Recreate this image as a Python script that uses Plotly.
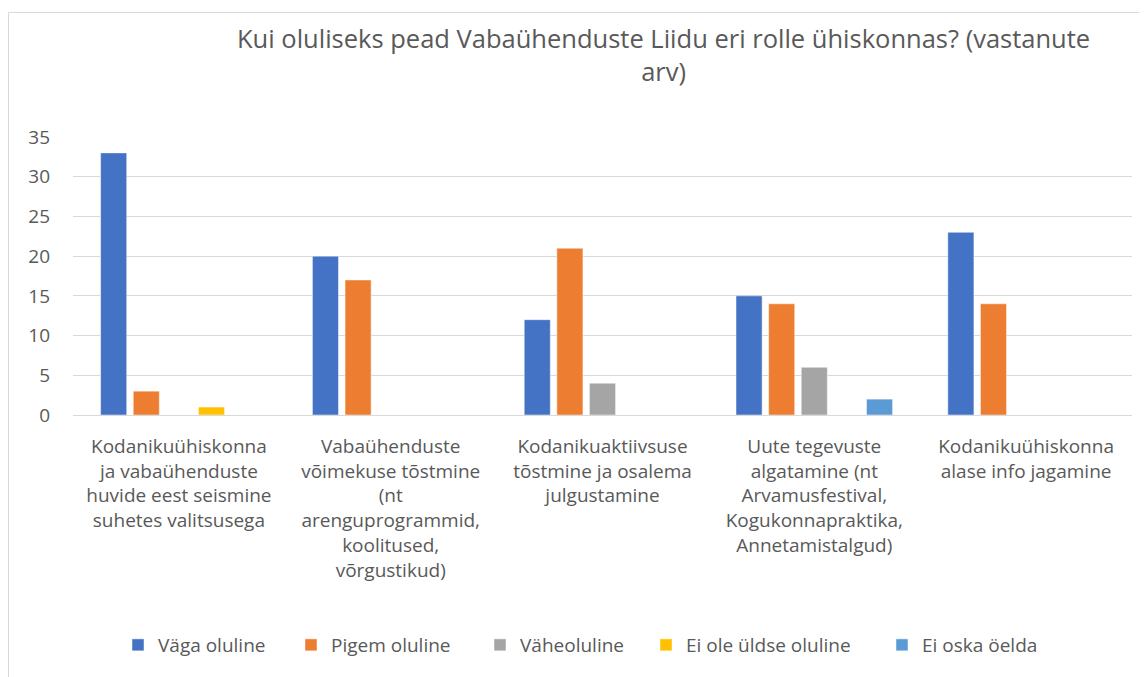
import plotly.graph_objects as go

categories = [
    "Kodanikuühiskonna<br>ja vabaühenduste<br>huvide eest seismine<br>suhetes valitsusega",
    "Vabaühenduste<br>võimekuse tõstmine<br>(nt<br>arenguprogrammid,<br>koolitused,<br>võrgustikud)",
    "Kodanikuaktiivsuse<br>tõstmine ja osalema<br>julgustamine",
    "Uute tegevuste<br>algatamine (nt<br>Arvamusfestival,<br>Kogukonnapraktika,<br>Annetamistalgud)",
    "Kodanikuühiskonna<br>alase info jagamine",
]
series_names = ["Väga oluline", "Pigem oluline", "Väheoluline", "Ei ole üldse oluline", "Ei oska öelda"]
vaga = [33, 20, 12, 15, 23]
pigem = [3, 17, 21, 14, 14]
vahe = [0, 0, 4, 6, 0]
ei_ole = [1, 0, 0, 0, 0]
ei_oska = [0, 0, 0, 2, 0]
series_values = [vaga, pigem, vahe, ei_ole, ei_oska]
colors = ["#4472C4", "#ED7D31", "#A5A5A5", "#FFC000", "#5B9BD5"]
title_text = "Kui oluliseks pead Vabaühenduste Liidu eri rolle ühiskonnas? (vastanute<br>arv)"

FONT = "Open Sans"
TXT = "#595959"

# the page body adds an 8px margin; figure coordinates below are page coords minus 8
OFF = 8
W, H = 1147 - OFF, 677 - OFF
L, R, T = 73 - OFF, 15, 137 - OFF
B = H - (415 - OFF)
pw, ph = W - L - R, H - T - B

def px_x(p):
    return (p - OFF - L) / pw

def px_y(p):
    return (H - B - (p - OFF)) / ph

legend_sym_x = [135, 308, 497, 663, 899]  # page px of symbol left edges
SYM_OFFSET = 17

legend_keys = ["legend", "legend2", "legend3", "legend4", "legend5"]

fig = go.Figure()
for i, (name, vals, col) in enumerate(zip(series_names, series_values, colors)):
    fig.add_trace(go.Bar(
        name=name, x=categories, y=vals, legend=legend_keys[i],
        marker=dict(color=col, line=dict(color="rgba(255,255,255,0.6)", width=0.8)),
    ))

layout_legends = {}
for i, key in enumerate(legend_keys):
    layout_legends[key] = dict(
        orientation="h", x=px_x(legend_sym_x[i] - SYM_OFFSET), y=px_y(645),
        xanchor="left", yanchor="middle", bgcolor="rgba(0,0,0,0)",
        font=dict(size=19, color=TXT, family=FONT), itemwidth=30,
    )

fig.update_layout(
    width=W, height=H,
    margin=dict(l=L, r=R, t=T, b=B, autoexpand=False),
    plot_bgcolor="white", paper_bgcolor="white",
    barmode="group", bargap=0.23, bargroupgap=0.2,
    font=dict(family=FONT, size=19, color=TXT),
    showlegend=True,
    xaxis=dict(showgrid=False, showline=False, ticks="", tickfont=dict(size=19, color=TXT),
               ticklabelstandoff=18),
    yaxis=dict(range=[0, 35], dtick=5, showgrid=True, gridcolor="#D9D9D9", gridwidth=1,
               zeroline=True, zerolinecolor="#D9D9D9", zerolinewidth=1,
               showline=False, ticks="", tickfont=dict(size=19, color=TXT), ticklabelstandoff=22),
    **layout_legends,
)

fig.add_annotation(text=title_text, xref="paper", yref="paper",
                   x=px_x(663), y=px_y(54), xanchor="center", yanchor="middle",
                   showarrow=False, font=dict(size=25.5, color=TXT, family=FONT))

fig.add_shape(type="rect", xref="paper", yref="paper",
              x0=px_x(8.5), x1=px_x(1170), y0=px_y(700), y1=px_y(12.5),
              line=dict(color="#D9D9D9", width=1), fillcolor="rgba(0,0,0,0)", layer="below")

fig.write_html("out.html")
